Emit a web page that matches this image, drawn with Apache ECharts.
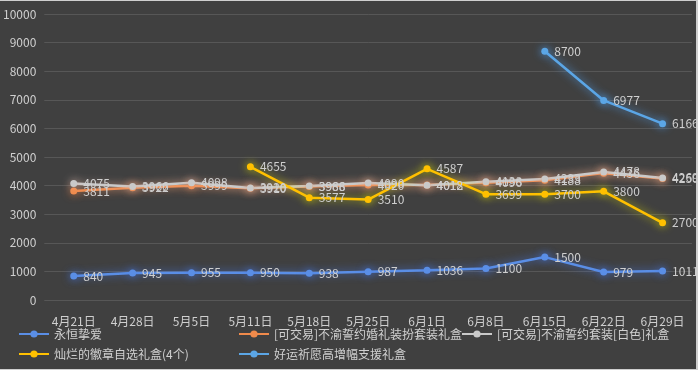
<!DOCTYPE html>
<html><head><meta charset="utf-8">
<script src="https://cdn.jsdelivr.net/npm/echarts@6/dist/echarts.min.js"></script>
<style>html,body{margin:0;padding:0;background:#404040;}#w{position:relative;width:698px;height:370px;}#c{width:698px;height:370px;}#b{position:absolute;left:0;top:0;width:696px;height:368px;border-top:1px solid #cfcfcf;border-right:2px solid #cfcfcf;border-bottom:1px solid #cfcfcf;pointer-events:none;}</style>
</head><body><div id="w"><div id="c"></div><div id="b"></div></div>
<script>
const categories = ['4月21日','4月28日','5月5日','5月11日','5月18日','5月25日','6月1日','6月8日','6月15日','6月22日','6月29日'];
const seriesNames = ['永恒挚爱','[可交易]不渝誓约婚礼装扮套装礼盒','[可交易]不渝誓约套装[白色]礼盒','灿烂的徽章自选礼盒(4个)','好运祈愿高增幅支援礼盒'];
const yongheng = [840,945,955,950,938,987,1036,1100,1500,979,1011];
const hunli = [3811,3922,3999,3910,3966,4020,4018,4096,4188,4436,4250];
const baise = [4075,3966,4098,3920,3988,4090,4012,4138,4233,4478,4269];
const huizhang = [null,null,null,4655,3577,3510,4587,3699,3700,3800,2700];
const haoyun = [null,null,null,null,null,null,null,null,8700,6977,6166];
const yTicks = {min:0,max:10000,interval:1000};

const colors = ['#5a8ee6','#f08a4b','#c9c9c9','#ffc000','#5ba6e6'];
const glow = ['rgba(70,120,230,0.9)','rgba(240,130,70,0.8)','rgba(230,200,190,0.7)','rgba(220,220,0,0.8)','rgba(80,160,240,0.9)'];
const datas = [yongheng,hunli,baise,huizhang,haoyun];
const chart = echarts.init(document.getElementById('c'));
const font = 'Noto Sans CJK SC';
const series = datas.map((d,i)=>({
  name: seriesNames[i], type:'line', data:d, symbol:'circle', symbolSize:7,
  itemStyle:{color:colors[i], shadowBlur:8, shadowColor:glow[i]},
  lineStyle:{width:2.5, color:colors[i], shadowBlur:8, shadowColor:glow[i]},
  label:{show:true, position:'right', distance:6, color:'#cfcfcf', fontSize:12, fontFamily:font},
  connectNulls:false, z: i===0?3:2
}));
const legendCommon = {orient:'vertical', itemWidth:30, itemHeight:9, itemGap:8,
  textStyle:{color:'#d0d0d0', fontSize:12, fontFamily:font}, padding:0,
  itemStyle:{shadowBlur:0}, lineStyle:{shadowBlur:0}};
chart.setOption({
  backgroundColor:'#404040',
  animation:false,
  grid:{left:44, right:6, top:14, bottom:70},
  xAxis:{type:'category', data:categories, boundaryGap:true,
    axisLine:{show:false}, axisTick:{show:false},
    axisLabel:{color:'#cfcfcf', fontSize:12, fontFamily:font, margin:15, interval:0}},
  yAxis:{type:'value', min:yTicks.min, max:yTicks.max, interval:yTicks.interval,
    axisLine:{show:false}, axisTick:{show:false},
    splitLine:{lineStyle:{color:'#575757', width:1}},
    axisLabel:{color:'#cfcfcf', fontSize:12, fontFamily:font, margin:8, formatter:v=>String(v)}},
  legend:[
    Object.assign({}, legendCommon, {left:18, top:328, data:[seriesNames[0],seriesNames[3]]}),
    Object.assign({}, legendCommon, {left:238, top:328, data:[seriesNames[1],seriesNames[4]]}),
    Object.assign({}, legendCommon, {left:461, top:328, data:[seriesNames[2]]})
  ],
  series: series
});
</script></body></html>
